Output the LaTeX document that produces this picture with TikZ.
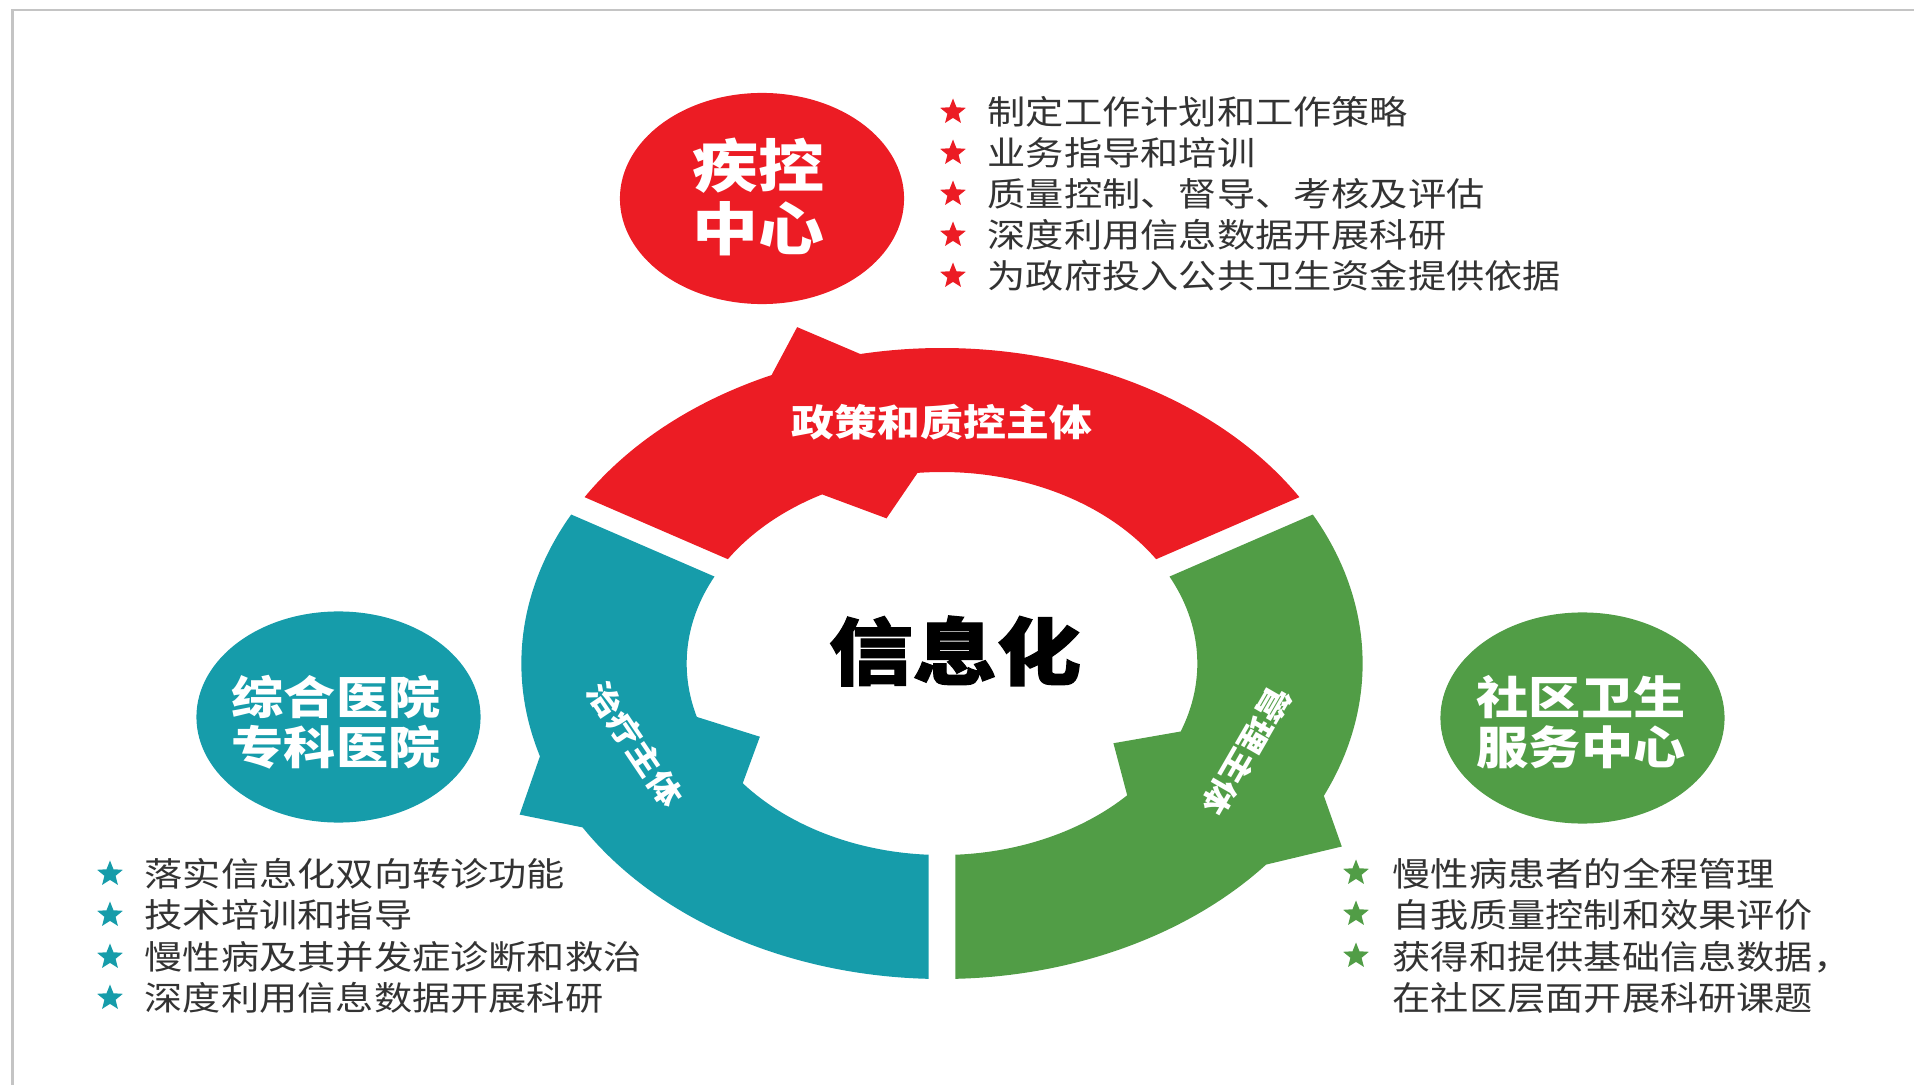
\documentclass[tikz,border=0pt]{standalone}
\usepackage{fontspec}
\usetikzlibrary{shapes.geometric}
\newfontfamily\cjk{Noto Sans CJK SC}[FakeStretch=1.15]
\newfontfamily\cjkheavy{Noto Sans CJK SC}[FakeStretch=1.15, FakeBold=1.5]
\definecolor{redc}{HTML}{EC1C24}
\definecolor{tealc}{HTML}{169CAA}
\definecolor{greenc}{HTML}{519D46}
\definecolor{txtc}{HTML}{333333}
\definecolor{framec}{HTML}{C4C4C4}
\tikzset{
  listtxt/.style={anchor=west, inner sep=0pt, text=txtc, font=\cjk\fontsize{9.45}{11}\selectfont},
  bstar/.style={star, star points=5, star point ratio=2.3, minimum size=0.27cm, inner sep=0pt, fill=#1},
  blob/.style={ellipse, fill=#1, inner sep=0pt, minimum width=2.84cm, minimum height=2.11cm},
  bigtxt/.style={inner sep=0pt, text=white, align=center, font=\cjk\bfseries\fontsize{16.3}{17.9}\selectfont},
  smalltxt/.style={inner sep=0pt, text=white, align=center, font=\cjk\bfseries\fontsize{12.9}{14.2}\selectfont},
  ringlbl/.style={inner sep=0pt, text=white, font=\cjk\bfseries\fontsize{10.6}{12}\selectfont},
  sidelbl/.style={inner sep=0pt, text=white, font=\cjk\bfseries\fontsize{8.8}{10}\selectfont},
  centertxt/.style={inner sep=0pt, text=black, font=\cjkheavy\bfseries\fontsize{20.8}{24}\selectfont}
}
\begin{document}
\begin{tikzpicture}[x=0.01cm, y=-0.01cm]
\useasboundingbox (0,0) rectangle (1914,1085);
% slide frame
\draw[framec, line width=0.7pt] (12.5,1085) -- (12.5,10) -- (1914,10);

% ring of three arrows
\begin{scope}[shift={(942,663.5)}, x=0.01cm, y=0.01cm, xscale=1.3333]
  \fill[redc] (31.82:315.5) arc[start angle=31.82, end angle=101.2, radius=315.5]
    -- (107.9:353.5) -- (113.9:315.5)
    arc[start angle=113.9, end angle=148.18, radius=315.5]
    -- (147:191.5) arc[start angle=147, end angle=118, radius=191.5]
    -- (106:151) -- (95.5:191.5)
    arc[start angle=95.5, end angle=33, radius=191.5] -- cycle;
  \fill[tealc] (151.82:315.5) arc[start angle=151.82, end angle=197.1, radius=315.5]
    -- (205.5:351) -- (211.3:315.5)
    arc[start angle=211.3, end angle=268.18, radius=315.5]
    -- (267:191.5) arc[start angle=267, end angle=218.7, radius=191.5]
    -- (208.2:155) -- (196.2:191.5)
    arc[start angle=196.2, end angle=153, radius=191.5] -- cycle;
  \fill[greenc] (271.82:315.5) arc[start angle=271.82, end angle=320.4, radius=315.5]
    -- (328.6:351.3) -- (335.2:315.5)
    arc[start angle=335.2, end angle=388.18, radius=315.5]
    -- (387:191.5) arc[start angle=387, end angle=339.2, radius=191.5]
    -- (328.2:151.3) -- (316.5:191.5)
    arc[start angle=316.5, end angle=273, radius=191.5] -- cycle;
\end{scope}

% ring labels
\node[ringlbl] (lblred) at (942,422) {政策和质控主体};
\node[sidelbl, rotate=-56] (lblteal) at (635,744) {治疗主体};
\node[sidelbl, rotate=-120] (lblgreen) at (1247,751) {管理主体};
\node[centertxt] (info) at (955,651) {信息化};

% ellipses
\node[blob=redc] (cdcbg) at (762,198.5) {};
\node[blob=tealc] (hospbg) at (338.5,717) {};
\node[blob=greenc] (commbg) at (1582.5,718) {};
\node[bigtxt] (cdc) at (758,197) {疾控\\中心};
\node[smalltxt] (hosp) at (336,722.5) {综合医院\\专科医院};
\node[smalltxt] (comm) at (1581,722.5) {社区卫生\\服务中心};

% red list
\node[bstar=redc] (rs1) at (953,112) {};
\node[bstar=redc] (rs2) at (953,153) {};
\node[bstar=redc] (rs3) at (953,194) {};
\node[bstar=redc] (rs4) at (953,235) {};
\node[bstar=redc] (rs5) at (953,276) {};
\node[listtxt] (rt1) at (987,112) {制定工作计划和工作策略};
\node[listtxt] (rt2) at (987,153) {业务指导和培训};
\node[listtxt] (rt3) at (987,194) {质量控制、督导、考核及评估};
\node[listtxt] (rt4) at (987,235) {深度利用信息数据开展科研};
\node[listtxt] (rt5) at (987,276) {为政府投入公共卫生资金提供依据};

% teal list
\node[bstar=tealc] (ts1) at (110,874) {};
\node[bstar=tealc] (ts2) at (110,915) {};
\node[bstar=tealc] (ts3) at (110,957) {};
\node[bstar=tealc] (ts4) at (110,998) {};
\node[listtxt] (tt1) at (144,874) {落实信息化双向转诊功能};
\node[listtxt] (tt2) at (144,915) {技术培训和指导};
\node[listtxt] (tt3) at (144,957) {慢性病及其并发症诊断和救治};
\node[listtxt] (tt4) at (144,998) {深度利用信息数据开展科研};

% green list
\node[bstar=greenc] (gs1) at (1356,873) {};
\node[bstar=greenc] (gs2) at (1356,914) {};
\node[bstar=greenc] (gs3) at (1356,956) {};
\node[listtxt] (gt1) at (1392,874) {慢性病患者的全程管理};
\node[listtxt] (gt2) at (1392,915) {自我质量控制和效果评价};
\node[listtxt] (gt3) at (1392,957) {获得和提供基础信息数据，};
\node[listtxt] (gt4) at (1392,998) {在社区层面开展科研课题};
\end{tikzpicture}
\end{document}
